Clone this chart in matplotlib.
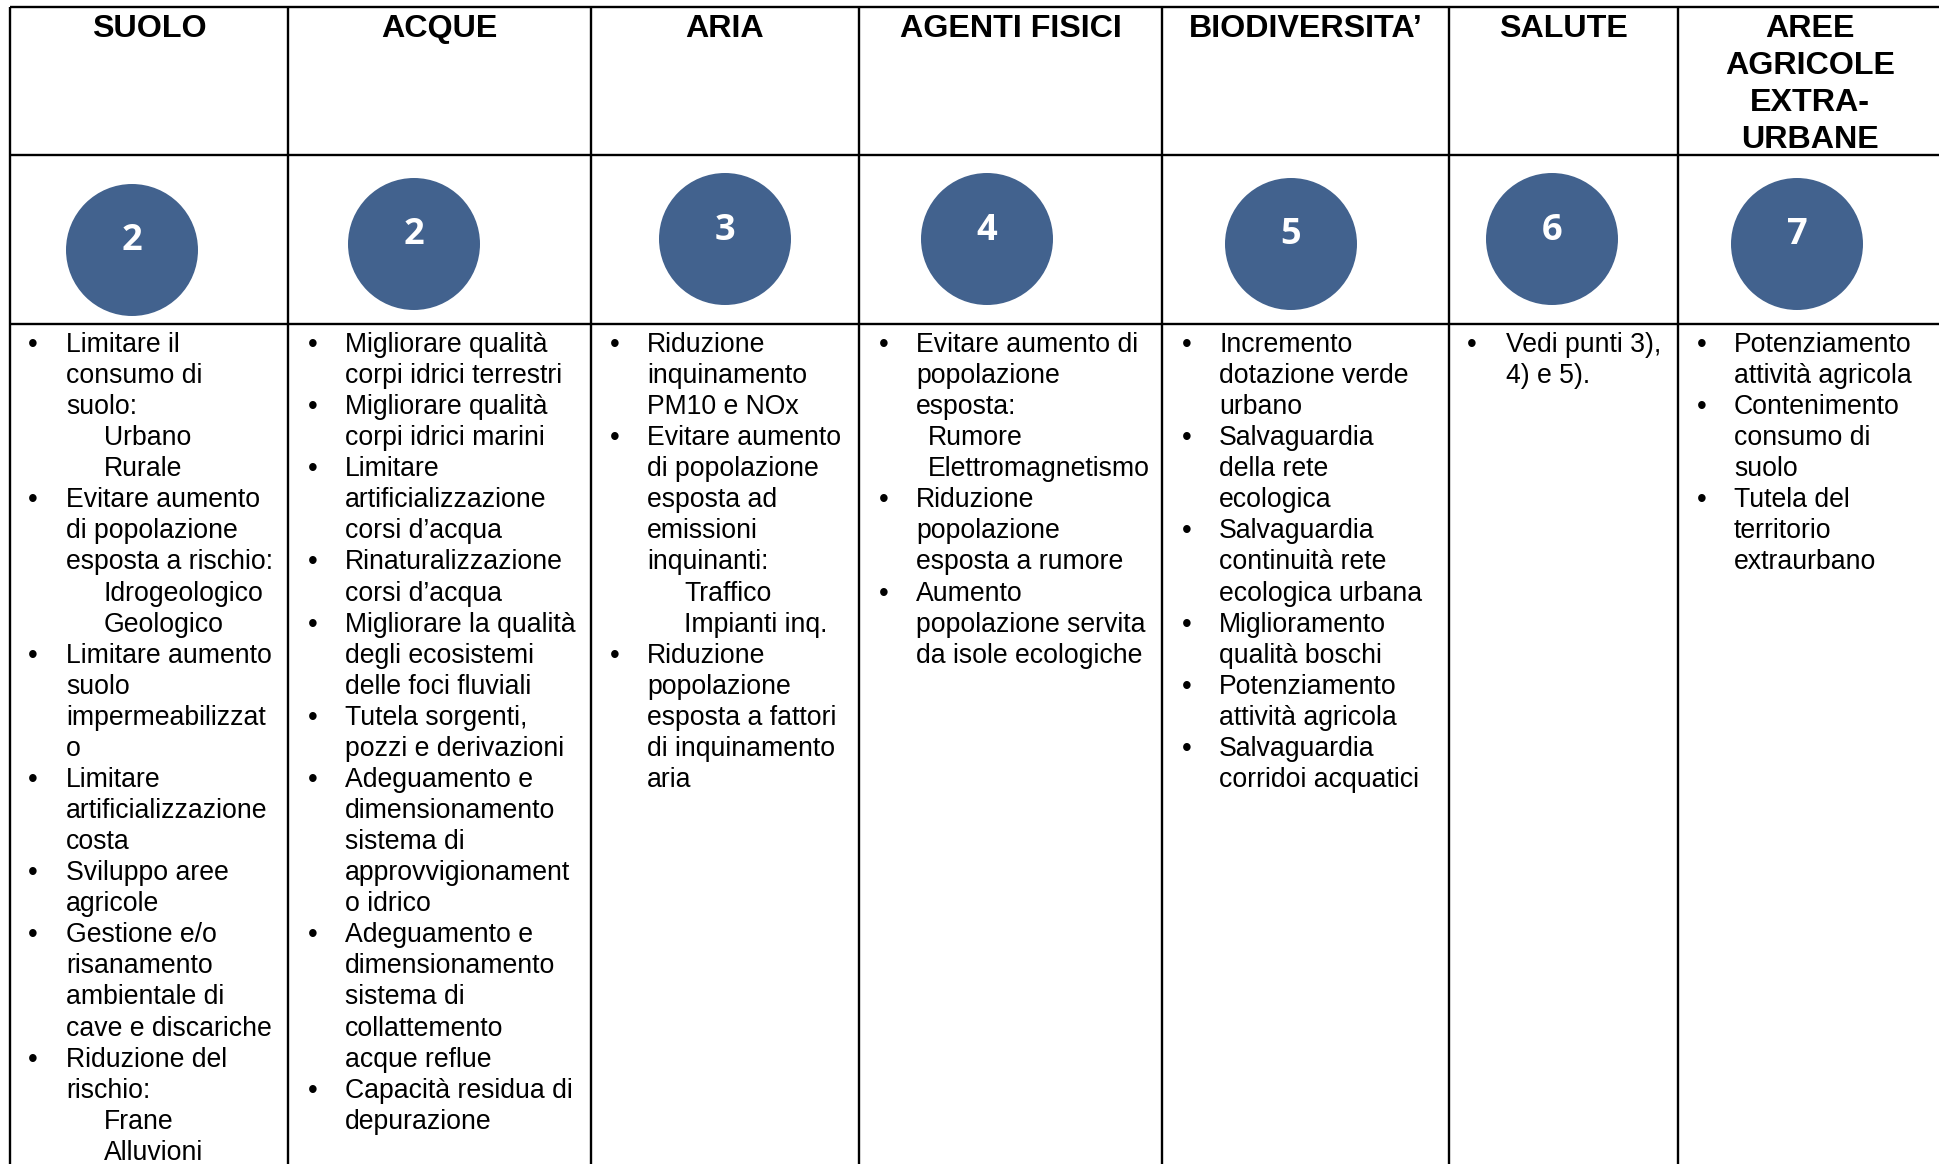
import matplotlib.pyplot as plt
from matplotlib.patches import Circle

# header row (one entry per column, lines of the header)
headers = [["SUOLO"], ["ACQUE"], ["ARIA"], ["AGENTI FISICI"], ["BIODIVERSITA’"], ["SALUTE"],
           ["AREE", "AGRICOLE", "EXTRA-", "URBANE"]]
circle_numbers = ["2", "2", "3", "4", "5", "6", "7"]

# body cells: "b" = new bullet, "c" = continuation line, "s" = indented sub item
suolo = [
    ("b", "Limitare il"), ("c", "consumo di"), ("c", "suolo:"), ("s", "Urbano"), ("s", "Rurale"),
    ("b", "Evitare aumento"), ("c", "di popolazione"), ("c", "esposta a rischio:"),
    ("s", "Idrogeologico"), ("s", "Geologico"),
    ("b", "Limitare aumento"), ("c", "suolo"), ("c", "impermeabilizzat"), ("c", "o"),
    ("b", "Limitare"), ("c", "artificializzazione"), ("c", "costa"),
    ("b", "Sviluppo aree"), ("c", "agricole"),
    ("b", "Gestione e/o"), ("c", "risanamento"), ("c", "ambientale di"), ("c", "cave e discariche"),
    ("b", "Riduzione del"), ("c", "rischio:"), ("s", "Frane"), ("s", "Alluvioni"),
]
acque = [
    ("b", "Migliorare qualità"), ("c", "corpi idrici terrestri"),
    ("b", "Migliorare qualità"), ("c", "corpi idrici marini"),
    ("b", "Limitare"), ("c", "artificializzazione"), ("c", "corsi d’acqua"),
    ("b", "Rinaturalizzazione"), ("c", "corsi d’acqua"),
    ("b", "Migliorare la qualità"), ("c", "degli ecosistemi"), ("c", "delle foci fluviali"),
    ("b", "Tutela sorgenti,"), ("c", "pozzi e derivazioni"),
    ("b", "Adeguamento e"), ("c", "dimensionamento"), ("c", "sistema di"),
    ("c", "approvvigionament"), ("c", "o idrico"),
    ("b", "Adeguamento e"), ("c", "dimensionamento"), ("c", "sistema di"),
    ("c", "collattemento"), ("c", "acque reflue"),
    ("b", "Capacità residua di"), ("c", "depurazione"),
]
aria = [
    ("b", "Riduzione"), ("c", "inquinamento"), ("c", "PM10 e NOx"),
    ("b", "Evitare aumento"), ("c", "di popolazione"), ("c", "esposta ad"), ("c", "emissioni"),
    ("c", "inquinanti:"), ("s", "Traffico"), ("s", "Impianti inq."),
    ("b", "Riduzione"), ("c", "popolazione"), ("c", "esposta a fattori"),
    ("c", "di inquinamento"), ("c", "aria"),
]
agenti = [
    ("b", "Evitare aumento di"), ("c", "popolazione"), ("c", "esposta:"),
    ("s", "Rumore"), ("s", "Elettromagnetismo"),
    ("b", "Riduzione"), ("c", "popolazione"), ("c", "esposta a rumore"),
    ("b", "Aumento"), ("c", "popolazione servita"), ("c", "da isole ecologiche"),
]
biodiversita = [
    ("b", "Incremento"), ("c", "dotazione verde"), ("c", "urbano"),
    ("b", "Salvaguardia"), ("c", "della rete"), ("c", "ecologica"),
    ("b", "Salvaguardia"), ("c", "continuità rete"), ("c", "ecologica urbana"),
    ("b", "Miglioramento"), ("c", "qualità boschi"),
    ("b", "Potenziamento"), ("c", "attività agricola"),
    ("b", "Salvaguardia"), ("c", "corridoi acquatici"),
]
salute = [("b", "Vedi punti 3),"), ("c", "4) e 5).")]
aree = [
    ("b", "Potenziamento"), ("c", "attività agricola"),
    ("b", "Contenimento"), ("c", "consumo di"), ("c", "suolo"),
    ("b", "Tutela del"), ("c", "territorio"), ("c", "extraurbano"),
]
columns = [suolo, acque, aria, agenti, biodiversita, salute, aree]

# layout (pixels of the 1939x1164 image)
W, H = 1939, 1164
col_edges = [10, 288, 591, 859, 1162, 1449, 1678]
last_right = 1942  # table goes on past the right edge of the picture
row_edges = [7, 155, 324]
circle_xy = [(132, 250), (414, 244), (725, 239), (987, 239), (1291, 244), (1552, 239), (1797, 244)]
circle_r = 66
bullet_x = [33, 313, 615, 884, 1187, 1472, 1702]
text_x = [66, 345, 647, 916, 1219, 1506, 1734]
sub_x = [104, 345, 684, 928, 1219, 1506, 1734]
head_baseline = 37
head_step = 37
first_baseline = 352
line_step = 31.07
circle_color = "#42628E"


def plot_table():
    fig = plt.figure(figsize=(W / 100, H / 100), dpi=100)
    ax = fig.add_axes([0, 0, 1, 1])
    ax.set_xlim(0, W)
    ax.set_ylim(H, 0)
    ax.axis("off")

    # grid lines
    for y in row_edges:
        ax.plot([col_edges[0], W], [y, y], color="black", lw=1.7, solid_capstyle="butt")
    for x in col_edges:
        ax.plot([x, x], [row_edges[0], H], color="black", lw=1.7, solid_capstyle="butt")

    col_right = col_edges[1:] + [last_right]
    for i, head in enumerate(headers):
        xc = (col_edges[i] + col_right[i]) / 2
        for k, hline in enumerate(head):
            ax.text(xc, head_baseline + k * head_step, hline, ha="center", va="baseline",
                    family="Liberation Sans", fontweight="bold", fontsize=23.2)

        cx, cy = circle_xy[i]
        ax.add_patch(Circle((cx, cy), circle_r, facecolor=circle_color, edgecolor="none"))
        ax.text(cx, cy - 8.5, circle_numbers[i], ha="center", va="center", color="white",
                family="Open Sans", fontweight="bold", fontsize=26)

        for j, (kind, line) in enumerate(columns[i]):
            y = first_baseline + j * line_step
            if kind == "b":
                ax.text(bullet_x[i], y, "•", ha="center", va="baseline",
                        family="Liberation Sans", fontsize=20)
            x = sub_x[i] if kind == "s" else text_x[i]
            ax.text(x, y, line, ha="left", va="baseline", family="Liberation Sans", fontsize=19.2)

    fig.savefig("out.png", dpi=100, facecolor="white")


if __name__ == "__main__":
    plot_table()
